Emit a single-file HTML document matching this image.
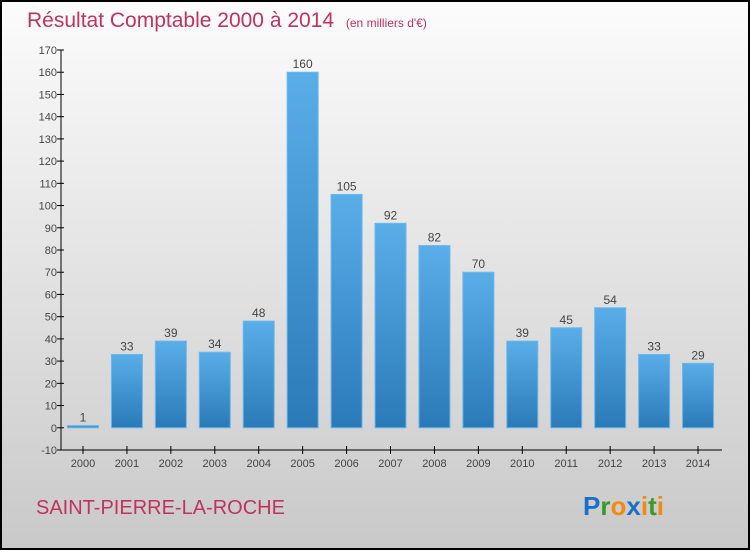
<!DOCTYPE html>
<html><head><meta charset="utf-8"><style>
html,body{margin:0;padding:0}
body{width:750px;height:550px;overflow:hidden;font-family:"Liberation Sans",sans-serif}
</style></head><body>
<svg id="c" width="750" height="550" xmlns="http://www.w3.org/2000/svg">
<defs>
<linearGradient id="bg" x1="0" y1="0" x2="0" y2="1"><stop offset="0" stop-color="#fcfcfc"/><stop offset="1" stop-color="#c9c9c9"/></linearGradient>
<linearGradient id="bar" x1="0" y1="0" x2="0" y2="1"><stop offset="0" stop-color="#5aaee8"/><stop offset="1" stop-color="#2a7ab8"/></linearGradient>
</defs>
<rect x="1" y="1" width="748" height="548" fill="url(#bg)" stroke="#000" stroke-width="2"/>
<text x="27" y="27" font-size="21" fill="#c0325f">Résultat Comptable 2000 à 2014 <tspan font-size="12" dx="6">(en milliers d'€)</tspan></text>
<g id="axes"></g>
<g id="bars"></g>
<text x="36" y="514" font-size="20" fill="#c0325f">SAINT-PIERRE-LA-ROCHE</text>
<text x="583" y="515" font-size="26" font-weight="bold"><tspan fill="#1a6fc9">P</tspan><tspan fill="#3a9a2a">r</tspan><tspan fill="#f08a10">o</tspan><tspan fill="#1a6fc9">x</tspan><tspan fill="#f08a10">i</tspan><tspan fill="#3a9a2a">t</tspan><tspan fill="#f08a10">i</tspan></text>
</svg>
<script>
const years=["2000","2001","2002","2003","2004","2005","2006","2007","2008","2009","2010","2011","2012","2013","2014"];
const values=[1,33,39,34,48,160,105,92,82,70,39,45,54,33,29];
const yTicks=[-10,0,10,20,30,40,50,60,70,80,90,100,110,120,130,140,150,160,170];
const NS="http://www.w3.org/2000/svg";
const y0=428,pxPer=(450-50)/180;
function yS(v){return 450-(v+10)*pxPer;}
function xS(i){return 83+i*43.93;}
function mk(t,a,p){const e=document.createElementNS(NS,t);for(const k in a)e.setAttribute(k,a[k]);p.appendChild(e);return e;}
const ax=document.getElementById('axes'),bg=document.getElementById('bars');
let l=mk('line',{x1:61,y1:50,x2:61,y2:450,stroke:'#000','stroke-width':1},ax);


l=mk('line',{x1:61,y1:450,x2:722,y2:450,stroke:'#000','stroke-width':1},ax);


yTicks.forEach(v=>{const y=yS(v);
 mk('line',{x1:57,y1:y,x2:64,y2:y,stroke:'#000'},ax);
 const t=mk('text',{x:57,y:y+4,'text-anchor':'end','font-size':11,fill:'#444'},ax);t.textContent=v;
 
 
});
years.forEach((yr,i)=>{const x=xS(i);
 mk('line',{x1:x,y1:446,x2:x,y2:454,stroke:'#000'},ax);
 const t=mk('text',{x:x,y:467,'text-anchor':'middle','font-size':11,fill:'#444'},ax);t.textContent=yr;
 
 
 const v=values[i],top=yS(Math.max(v,0)),bot=yS(Math.min(v,0));
 const r=mk('rect',{x:x-15.5,y:top,width:31,height:Math.max(bot-top,2),fill:'url(#bar)',stroke:'#6ab8ee','stroke-width':1},bg);
 
 
 const lb=mk('text',{x:x,y:top-4,'text-anchor':'middle','font-size':12,fill:'#444'},bg);lb.textContent=v;
 
 
});
</script>
</body></html>
